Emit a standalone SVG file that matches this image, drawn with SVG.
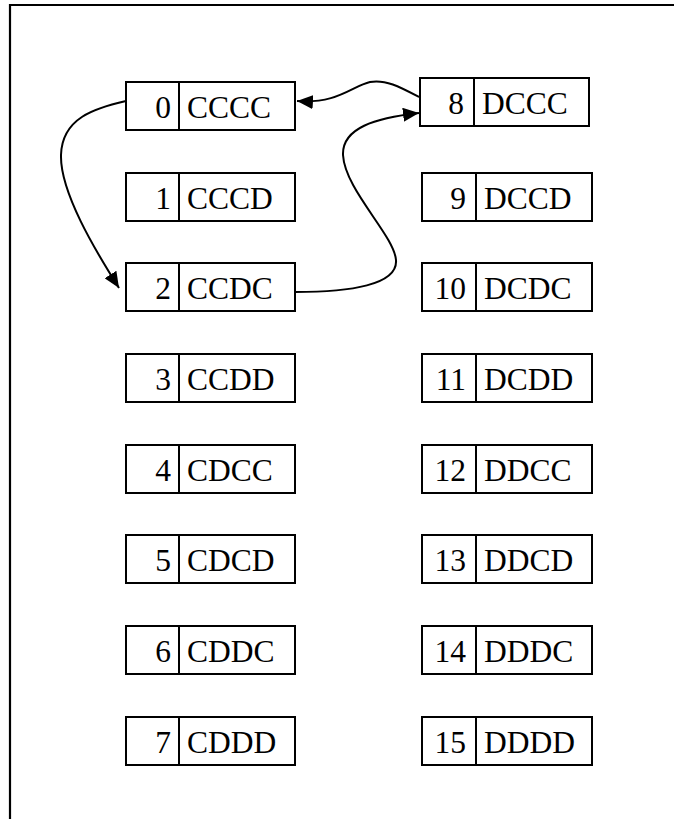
<svg xmlns="http://www.w3.org/2000/svg" width="674" height="819" viewBox="0 0 674 819">
  <style>
    .box { fill: #fff; stroke: #000; stroke-width: 2; }
    .div { stroke: #000; stroke-width: 2; }
    .num { font-family: "Liberation Serif", "Times New Roman", serif; font-size: 31.5px; text-anchor: end; fill: #000; }
    .lab { font-family: "Liberation Serif", "Times New Roman", serif; font-size: 31.5px; fill: #000; }
    .edge { fill: none; stroke: #000; stroke-width: 2; }
  </style>
  <defs>
    <marker id="arrow" markerUnits="userSpaceOnUse" markerWidth="18" markerHeight="14" refX="16" refY="7" orient="auto">
      <path d="M0,0 L16,7 L0,14 z" fill="#000"/>
    </marker>
  </defs>
  <rect width="674" height="819" fill="#fff"/>
  <!-- page frame -->
  <polyline points="10,819 10,5 674,5" fill="none" stroke="#000" stroke-width="2.2"/>

  <!-- left column: states 0-7 -->
  <g id="n0"><rect class="box" x="126" y="82" width="169" height="48"/><line class="div" x1="179" y1="82" x2="179" y2="130"/><text class="num" x="171" y="118">0</text><text class="lab" x="187" y="118">CCCC</text></g>
  <g id="n1"><rect class="box" x="126" y="173" width="169" height="48"/><line class="div" x1="179" y1="173" x2="179" y2="221"/><text class="num" x="171" y="209">1</text><text class="lab" x="187" y="209">CCCD</text></g>
  <g id="n2"><rect class="box" x="126" y="263" width="169" height="48"/><line class="div" x1="179" y1="263" x2="179" y2="311"/><text class="num" x="171" y="299">2</text><text class="lab" x="187" y="299">CCDC</text></g>
  <g id="n3"><rect class="box" x="126" y="354" width="169" height="48"/><line class="div" x1="179" y1="354" x2="179" y2="402"/><text class="num" x="171" y="390">3</text><text class="lab" x="187" y="390">CCDD</text></g>
  <g id="n4"><rect class="box" x="126" y="445" width="169" height="48"/><line class="div" x1="179" y1="445" x2="179" y2="493"/><text class="num" x="171" y="481">4</text><text class="lab" x="187" y="481">CDCC</text></g>
  <g id="n5"><rect class="box" x="126" y="535" width="169" height="48"/><line class="div" x1="179" y1="535" x2="179" y2="583"/><text class="num" x="171" y="571">5</text><text class="lab" x="187" y="571">CDCD</text></g>
  <g id="n6"><rect class="box" x="126" y="626" width="169" height="48"/><line class="div" x1="179" y1="626" x2="179" y2="674"/><text class="num" x="171" y="662">6</text><text class="lab" x="187" y="662">CDDC</text></g>
  <g id="n7"><rect class="box" x="126" y="717" width="169" height="48"/><line class="div" x1="179" y1="717" x2="179" y2="765"/><text class="num" x="171" y="753">7</text><text class="lab" x="187" y="753">CDDD</text></g>

  <!-- right column: states 8-15 -->
  <g id="n8"><rect class="box" x="420" y="78" width="169" height="48"/><line class="div" x1="474" y1="78" x2="474" y2="126"/><text class="num" x="464" y="114">8</text><text class="lab" x="482" y="114">DCCC</text></g>
  <g id="n9"><rect class="box" x="422" y="173" width="170" height="48"/><line class="div" x1="476" y1="173" x2="476" y2="221"/><text class="num" x="466" y="209">9</text><text class="lab" x="484" y="209">DCCD</text></g>
  <g id="n10"><rect class="box" x="422" y="263" width="170" height="48"/><line class="div" x1="476" y1="263" x2="476" y2="311"/><text class="num" x="466" y="299">10</text><text class="lab" x="484" y="299">DCDC</text></g>
  <g id="n11"><rect class="box" x="422" y="354" width="170" height="48"/><line class="div" x1="476" y1="354" x2="476" y2="402"/><text class="num" x="466" y="390">11</text><text class="lab" x="484" y="390">DCDD</text></g>
  <g id="n12"><rect class="box" x="422" y="445" width="170" height="48"/><line class="div" x1="476" y1="445" x2="476" y2="493"/><text class="num" x="466" y="481">12</text><text class="lab" x="484" y="481">DDCC</text></g>
  <g id="n13"><rect class="box" x="422" y="535" width="170" height="48"/><line class="div" x1="476" y1="535" x2="476" y2="583"/><text class="num" x="466" y="571">13</text><text class="lab" x="484" y="571">DDCD</text></g>
  <g id="n14"><rect class="box" x="422" y="626" width="170" height="48"/><line class="div" x1="476" y1="626" x2="476" y2="674"/><text class="num" x="466" y="662">14</text><text class="lab" x="484" y="662">DDDC</text></g>
  <g id="n15"><rect class="box" x="422" y="717" width="170" height="48"/><line class="div" x1="476" y1="717" x2="476" y2="765"/><text class="num" x="466" y="753">15</text><text class="lab" x="484" y="753">DDDD</text></g>

  <!-- transitions -->
  <g id="edges">
    <path class="edge" marker-end="url(#arrow)" d="M126,101 C95,108 62,118 61,155 C60,192 95,250 119,288"/>
    <path class="edge" marker-end="url(#arrow)" d="M419,97 C400,87 385,79 370,82 C352,86 338,104 297,101"/>
    <path class="edge" marker-end="url(#arrow)" d="M295,292 C350,292 398,285 396,260 C394,235 345,190 343,155 C342,128 375,118 419,113"/>
  </g>
</svg>
